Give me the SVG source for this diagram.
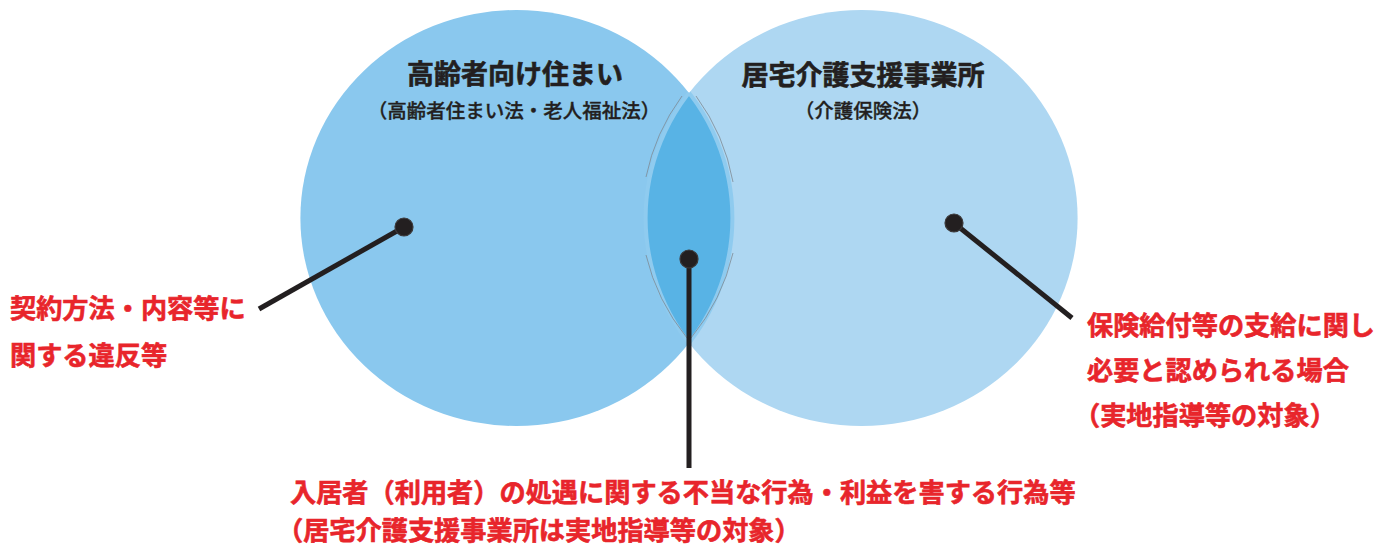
<svg xmlns="http://www.w3.org/2000/svg" width="1394" height="548" viewBox="0 0 1394 548">
<style>
.t{font-family:"Noto Sans CJK JP","Noto Sans CJK SC",sans-serif;}
.title{font-size:27px;font-weight:bold;fill:#231F20;stroke:#231F20;stroke-width:0.6;text-anchor:middle;}
.sub{font-size:19.5px;font-weight:500;fill:#231F20;stroke:#231F20;stroke-width:0.35;text-anchor:middle;}
.red{font-size:26.2px;font-weight:bold;fill:#E8252B;stroke:#E8252B;stroke-width:0.6;}
.lead{stroke:#231F20;stroke-width:5;fill:none;}
.dot{fill:#231F20;stroke:#3b3839;stroke-width:1.2;}
.ghost{fill:none;stroke:#7d8a94;stroke-width:0.8;}
</style>
<defs>
<clipPath id="clipL"><ellipse cx="516.4" cy="218" rx="216" ry="208"/></clipPath>
<clipPath id="clipR"><ellipse cx="861.6" cy="218" rx="216" ry="208"/></clipPath>
</defs>
<rect width="1394" height="548" fill="#FFFFFF"/>

<g id="node-left">
<ellipse cx="516.4" cy="218" rx="216" ry="208" fill="#8AC8EE"/>
</g>
<g id="node-right">
<ellipse cx="861.6" cy="218" rx="216" ry="208" fill="#AED7F2"/>
</g>
<g id="node-overlap">
<g clip-path="url(#clipL)">
<ellipse cx="861.6" cy="218" rx="216" ry="208" fill="#58B3E5"/>
<ellipse cx="861.6" cy="218" rx="216" ry="208" fill="none" stroke="#8FCBEF" stroke-width="4"/>
</g>
<g clip-path="url(#clipR)">
<ellipse cx="516.4" cy="218" rx="216" ry="208" fill="none" stroke="#8FCBEF" stroke-width="4"/>
</g>
<path class="ghost" d="M 682 96 A 220 212 0 0 0 646 177"/>
<path class="ghost" d="M 646 255 A 220 212 0 0 0 687 338"/>
<path class="ghost" d="M 696 96 A 220 212 0 0 1 733 182"/>
<path class="ghost" d="M 733 253 A 220 212 0 0 1 691 338"/>
</g>

<g id="label-left-title">
<text class="t title" x="515" y="84">高齢者向け住まい</text>
<text class="t sub" x="514" y="118">（高齢者住まい法・老人福祉法）</text>
</g>
<g id="label-right-title">
<text class="t title" x="863" y="85">居宅介護支援事業所</text>
<text class="t sub" x="863" y="118">（介護保険法）</text>
</g>

<g id="connectors">
<line class="lead" x1="404" y1="227" x2="259" y2="309"/>
<line class="lead" x1="954" y1="223" x2="1072" y2="318"/>
<line class="lead" x1="689" y1="259" x2="689" y2="468" stroke-width="4.5"/>
<circle class="dot" cx="404" cy="227" r="9"/>
<circle class="dot" cx="954" cy="223" r="9"/>
<circle class="dot" cx="689" cy="259" r="9"/>
</g>

<g id="label-left">
<text class="t red" x="10" y="318">契約方法・内容等に</text>
<text class="t red" x="10" y="365">関する違反等</text>
</g>
<g id="label-right">
<text class="t red" x="1087" y="335">保険給付等の支給に関し</text>
<text class="t red" x="1087" y="380">必要と認められる場合</text>
<text class="t red" x="1074" y="425">（実地指導等の対象）</text>
</g>
<g id="label-bottom">
<text class="t red" x="290" y="502">入居者（利用者）の処遇に関する不当な行為・利益を害する行為等</text>
<text class="t red" x="277" y="540">（居宅介護支援事業所は実地指導等の対象）</text>
</g>
</svg>
